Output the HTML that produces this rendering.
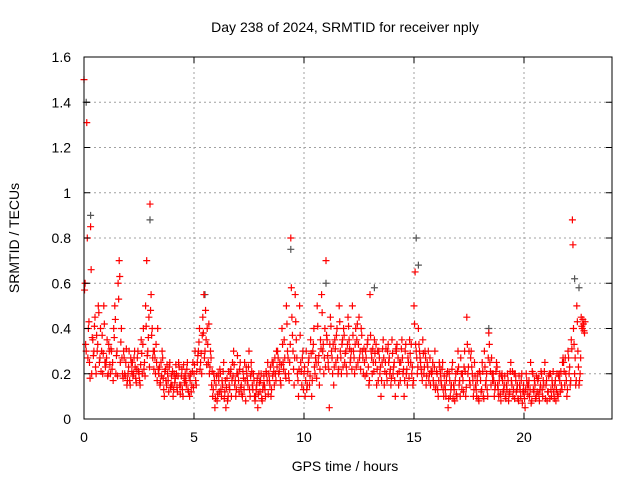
<!DOCTYPE html>
<html><head><meta charset="utf-8"><style>
body{margin:0;background:#fff}
svg{display:block;font-family:"Liberation Sans",sans-serif}
</style></head><body>
<svg id="chart" width="640" height="480" xmlns="http://www.w3.org/2000/svg">
<rect width="640" height="480" fill="#fff"/>
<text x="345" y="32" font-size="14" text-anchor="middle">Day 238 of 2024, SRMTID for receiver nply</text>
<text transform="translate(19,238) rotate(-90)" font-size="14" text-anchor="middle">SRMTID / TECUs</text>
<text x="345" y="471" font-size="14" text-anchor="middle">GPS time / hours</text>
<g id="grid"></g><g id="marks"></g><g id="axes"></g>
</svg>
<script>
const binStart = 0, binWidth = 0.2;
const redBins = [
[1.5,0.6,0.3,0.8],[0.4,0.25,0.85,0.2],[0.35,0.3,0.45,0.2],[0.3,0.5,0.25,0.4],[0.3,0.2,0.5,0.25],
[0.25,0.35,0.2,0.3],[0.2,0.3,0.25,0.4],[0.5,0.2,0.3,0.6],[0.7,0.25,0.4,0.2],[0.3,0.2,0.25,0.15],
[0.2,0.3,0.15,0.25],[0.25,0.2,0.3,0.18],[0.22,0.3,0.2,0.15],[0.35,0.2,0.4,0.25],[0.5,0.7,0.3,0.45],
[0.95,0.55,0.4,0.3],[0.3,0.2,0.25,0.4],[0.2,0.15,0.25,0.3],[0.18,0.1,0.22,0.15],[0.2,0.12,0.25,0.15],
[0.15,0.1,0.2,0.18],[0.2,0.12,0.25,0.15],[0.15,0.22,0.1,0.18],[0.2,0.15,0.25,0.12],[0.1,0.2,0.15,0.25],
[0.2,0.3,0.15,0.25],[0.3,0.4,0.25,0.2],[0.45,0.55,0.3,0.35],[0.4,0.25,0.2,0.3],[0.15,0.1,0.2,0.05],
[0.15,0.08,0.2,0.12],[0.2,0.1,0.15,0.25],[0.12,0.05,0.18,0.1],[0.15,0.2,0.1,0.25],[0.3,0.15,0.1,0.2],
[0.2,0.12,0.25,0.15],[0.1,0.18,0.25,0.08],[0.2,0.15,0.3,0.1],[0.25,0.15,0.2,0.1],[0.1,0.15,0.05,0.2],
[0.12,0.2,0.08,0.15],[0.15,0.1,0.2,0.25],[0.2,0.15,0.1,0.25],[0.25,0.15,0.2,0.3],[0.3,0.2,0.25,0.15],
[0.4,0.25,0.35,0.2],[0.5,0.3,0.2,0.25],[0.8,0.45,0.3,0.15],[0.55,0.35,0.2,0.1],[0.5,0.25,0.15,0.3],
[0.2,0.1,0.3,0.15],[0.25,0.15,0.35,0.1],[0.3,0.4,0.2,0.25],[0.5,0.25,0.15,0.35],[0.55,0.3,0.2,0.4],
[0.7,0.35,0.25,0.05],[0.45,0.3,0.2,0.15],[0.35,0.25,0.4,0.2],[0.5,0.3,0.2,0.35],[0.4,0.25,0.3,0.2],
[0.45,0.35,0.25,0.3],[0.5,0.3,0.2,0.4],[0.35,0.25,0.45,0.3],[0.4,0.3,0.2,0.25],[0.3,0.2,0.35,0.15],
[0.55,0.3,0.2,0.25],[0.35,0.25,0.15,0.3],[0.3,0.2,0.1,0.25],[0.35,0.15,0.25,0.2],[0.3,0.25,0.2,0.15],
[0.35,0.2,0.25,0.1],[0.3,0.2,0.15,0.25],[0.25,0.35,0.2,0.1],[0.3,0.2,0.15,0.25],[0.35,0.25,0.2,0.15],
[0.5,0.65,0.3,0.2],[0.4,0.3,0.25,0.2],[0.35,0.2,0.3,0.15],[0.25,0.3,0.2,0.15],[0.2,0.25,0.15,0.3],
[0.15,0.2,0.1,0.25],[0.2,0.15,0.25,0.1],[0.15,0.1,0.2,0.05],[0.2,0.1,0.15,0.25],[0.15,0.08,0.2,0.1],
[0.3,0.15,0.1,0.2],[0.2,0.12,0.3,0.1],[0.45,0.2,0.3,0.15],[0.3,0.2,0.1,0.25],[0.15,0.1,0.2,0.08],
[0.2,0.12,0.25,0.1],[0.3,0.15,0.2,0.1],[0.38,0.25,0.15,0.2],[0.2,0.1,0.15,0.25],[0.15,0.1,0.2,0.08],
[0.2,0.12,0.15,0.1],[0.15,0.2,0.08,0.12],[0.25,0.15,0.1,0.2],[0.2,0.12,0.15,0.08],[0.15,0.1,0.2,0.12],
[0.12,0.05,0.2,0.15],[0.15,0.1,0.25,0.08],[0.2,0.12,0.15,0.1],[0.12,0.18,0.08,0.15],[0.2,0.1,0.15,0.25],
[0.15,0.08,0.12,0.2],[0.2,0.1,0.15,0.12],[0.15,0.08,0.2,0.1],[0.2,0.12,0.15,0.25],[0.25,0.15,0.2,0.1],
[0.3,0.2,0.15,0.35],[0.88,0.4,0.2,0.15],[0.5,0.3,0.15,0.2],[0.45,0.4,0.42,0.38]
];
const redBins2 = [
[0.57,0.33,1.31,0.27],[0.43,0.18,0.66,0.36],[0.28,0.41,0.23,0.37],[0.33,0.47,0.27,0.21],[0.37,0.29,0.42,0.23],
[0.27,0.19,0.33,0.24],[0.31,0.22,0.17,0.36],[0.44,0.28,0.19,0.53],[0.63,0.34,0.27,0.18],[0.27,0.19,0.31,0.17],
[0.23,0.17,0.27,0.21],[0.19,0.27,0.23,0.16],[0.27,0.21,0.17,0.24],[0.29,0.33,0.22,0.19],[0.41,0.28,0.36,0.23],
[0.48,0.37,0.27,0.22],[0.27,0.33,0.17,0.22],[0.23,0.16,0.19,0.27],[0.13,0.21,0.17,0.24],[0.17,0.23,0.14,0.19],
[0.21,0.13,0.16,0.24],[0.14,0.19,0.23,0.11],[0.19,0.13,0.24,0.16],[0.17,0.22,0.13,0.19],[0.17,0.12,0.21,0.14],
[0.24,0.17,0.21,0.28],[0.34,0.22,0.29,0.37],[0.38,0.27,0.48,0.24],[0.33,0.42,0.23,0.27],[0.21,0.13,0.17,0.09],
[0.19,0.11,0.17,0.22],[0.13,0.17,0.21,0.09],[0.17,0.14,0.08,0.21],[0.13,0.22,0.17,0.19],[0.24,0.17,0.13,0.28],
[0.17,0.22,0.14,0.11],[0.21,0.13,0.17,0.23],[0.17,0.23,0.13,0.19],[0.21,0.13,0.17,0.08],[0.13,0.18,0.11,0.16],
[0.17,0.09,0.13,0.19],[0.13,0.21,0.17,0.11],[0.17,0.23,0.13,0.19],[0.21,0.27,0.17,0.23],[0.27,0.21,0.17,0.24],
[0.33,0.22,0.27,0.18],[0.42,0.27,0.17,0.33],[0.58,0.37,0.22,0.27],[0.43,0.27,0.17,0.22],[0.37,0.21,0.27,0.13],
[0.23,0.17,0.13,0.21],[0.27,0.19,0.29,0.17],[0.33,0.23,0.27,0.18],[0.41,0.28,0.22,0.31],[0.47,0.33,0.27,0.23],
[0.37,0.28,0.22,0.33],[0.41,0.27,0.33,0.23],[0.31,0.37,0.27,0.22],[0.43,0.27,0.33,0.23],[0.37,0.29,0.23,0.33],
[0.41,0.31,0.27,0.22],[0.37,0.27,0.33,0.23],[0.42,0.33,0.27,0.22],[0.37,0.27,0.31,0.19],[0.27,0.33,0.23,0.17],
[0.37,0.27,0.31,0.21],[0.29,0.33,0.22,0.17],[0.27,0.23,0.17,0.31],[0.27,0.21,0.31,0.17],[0.33,0.27,0.22,0.18],
[0.29,0.23,0.17,0.31],[0.33,0.27,0.21,0.17],[0.31,0.27,0.22,0.17],[0.33,0.22,0.27,0.18],[0.29,0.33,0.23,0.17],
[0.42,0.33,0.27,0.23],[0.33,0.27,0.22,0.17],[0.29,0.23,0.27,0.19],[0.23,0.17,0.27,0.21],[0.21,0.17,0.23,0.13],
[0.21,0.13,0.17,0.23],[0.17,0.22,0.13,0.19],[0.13,0.17,0.21,0.09],[0.17,0.13,0.22,0.09],[0.13,0.17,0.11,0.21],
[0.23,0.17,0.27,0.13],[0.17,0.23,0.21,0.14],[0.33,0.23,0.17,0.27],[0.23,0.17,0.13,0.19],[0.13,0.17,0.09,0.21],
[0.17,0.13,0.21,0.09],[0.23,0.17,0.13,0.27],[0.33,0.21,0.27,0.17],[0.17,0.13,0.21,0.23],[0.13,0.17,0.11,0.19],
[0.17,0.13,0.19,0.09],[0.13,0.17,0.11,0.21],[0.17,0.21,0.13,0.09],[0.17,0.13,0.09,0.19],[0.13,0.17,0.07,0.15],
[0.09,0.13,0.17,0.11],[0.17,0.13,0.07,0.21],[0.13,0.17,0.09,0.19],[0.17,0.11,0.13,0.21],[0.13,0.17,0.21,0.09],
[0.17,0.12,0.19,0.09],[0.13,0.17,0.21,0.09],[0.17,0.13,0.11,0.19],[0.17,0.21,0.13,0.27],[0.21,0.27,0.17,0.13],
[0.27,0.23,0.17,0.31],[0.77,0.33,0.27,0.17],[0.43,0.23,0.17,0.27],[0.41,0.44,0.39,0.43]
];
const grayTimes = [0.1,0.3,3.0,5.5,9.4,11.0,13.2,15.1,15.2,18.4,22.3,22.5];
const grayValues = [1.4,0.9,0.88,0.55,0.75,0.6,0.58,0.8,0.68,0.4,0.62,0.58];
const xTicks = [0,5,10,15,20];
const yTicks = [0,0.2,0.4,0.6,0.8,1,1.2,1.4,1.6];
const yTickLabels = ["0","0.2","0.4","0.6","0.8","1","1.2","1.4","1.6"];

const X0=84, X1=612, Y0=419, Y1=57, XMAX=24, YMAX=1.6;
const xs = v => X0 + v/XMAX*(X1-X0);
const ys = v => Y0 - v/YMAX*(Y0-Y1);
const NS="http://www.w3.org/2000/svg";
function mk(tag, attrs, parent){const e=document.createElementNS(NS,tag);for(const k in attrs)e.setAttribute(k,attrs[k]);parent.appendChild(e);return e;}
const grid=document.getElementById('grid'), marks=document.getElementById('marks'), axes=document.getElementById('axes');

xTicks.forEach(t=>{
  const x=xs(t);
  if(t>0){const g=mk('line',{x1:x,x2:x,y1:Y1,y2:Y0,stroke:'#a0a0a0','stroke-dasharray':'2,3'},grid);
  
  }
  mk('line',{x1:x,x2:x,y1:Y0,y2:Y0-6,stroke:'#000'},axes);
  mk('line',{x1:x,x2:x,y1:Y1,y2:Y1+6,stroke:'#000'},axes);
  const l=mk('text',{x:x,y:Y0+23,'font-size':14,'text-anchor':'middle'},axes);
  l.textContent=t;
  
  
});
yTicks.forEach((t,i)=>{
  const y=ys(t);
  if(t>0&&t<YMAX){const g=mk('line',{x1:X0,x2:X1,y1:y,y2:y,stroke:'#a0a0a0','stroke-dasharray':'2,3'},grid);
  
  }
  mk('line',{x1:X0,x2:X0+6,y1:y,y2:y,stroke:'#000'},axes);
  mk('line',{x1:X1,x2:X1-6,y1:y,y2:y,stroke:'#000'},axes);
  const l=mk('text',{x:X0-13,y:y+5,'font-size':14,'text-anchor':'end'},axes);
  l.textContent=yTickLabels[i];
  
  
});
const frame=mk('rect',{x:X0,y:Y1,width:X1-X0,height:Y0-Y1,fill:'none',stroke:'#000'},axes);



function plus(t,v,color){
  const x=xs(t), y=ys(v);
  return mk('path',{d:`M${x-3.5},${y}h7M${x},${y-3.5}v7`,stroke:color,'stroke-width':1.2,fill:'none'},marks);
}
grayTimes.forEach((t,i)=>{
  const p=plus(t,grayValues[i],'#555');
  
  
});
[redBins, redBins2].forEach((bins,s)=>{
  bins.forEach((vals,b)=>{
    vals.forEach((v,k)=>{
      const t=binStart+b*binWidth+(k+0.5*s)*binWidth/vals.length;
      const p=plus(t,v,'#ff0000');
      
      
    });
  });
});
</script>
</body></html>
